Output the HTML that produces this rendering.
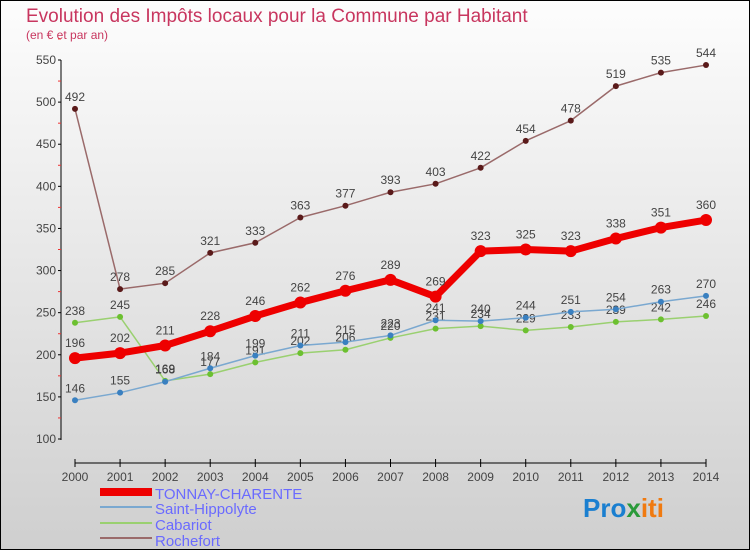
<!DOCTYPE html>
<html><head><meta charset="utf-8"><style>
body{margin:0}
#c{width:750px;height:550px;position:relative;font-family:"Liberation Sans",sans-serif}
</style></head><body>
<div id="c">
<svg id="s" width="750" height="550" xmlns="http://www.w3.org/2000/svg">
<defs><linearGradient id="bg" x1="0" y1="0" x2="0" y2="1"><stop offset="0" stop-color="#fdfdfd"/><stop offset="1" stop-color="#cfcfcf"/></linearGradient></defs>
<rect x="0.5" y="0.5" width="749" height="549" fill="url(#bg)" stroke="#000"/>
<text x="26" y="22" font-size="19" fill="#c8365f">Evolution des Impôts locaux pour la Commune par Habitant</text>
<text x="26" y="39" font-size="12" fill="#c8365f">(en € et par an)</text>
<g id="axes"></g><g id="series"></g>
<g>
<rect x="100" y="488" width="52" height="8" fill="#e00"/>
<text x="155" y="499" font-size="15" fill="#6a6aff">TONNAY-CHARENTE</text>
<line x1="100" y1="507" x2="152" y2="507" stroke="#7aa8d0" stroke-width="2"/>
<text x="155" y="514" font-size="15" fill="#6a6aff">Saint-Hippolyte</text>
<line x1="100" y1="523" x2="152" y2="523" stroke="#9ad070" stroke-width="2"/>
<text x="155" y="530" font-size="15" fill="#6a6aff">Cabariot</text>
<line x1="100" y1="538" x2="152" y2="538" stroke="#9a6a6a" stroke-width="2"/>
<text x="155" y="546" font-size="15" fill="#6a6aff">Rochefort</text>
</g>
<text x="583" y="517" font-size="26" font-weight="bold"><tspan fill="#1a7fd0">Pro</tspan><tspan fill="#2a9a3a">x</tspan><tspan fill="#f07a10">iti</tspan></text>
</svg></div>
<script>
const years=[2000,2001,2002,2003,2004,2005,2006,2007,2008,2009,2010,2011,2012,2013,2014];
const yTicks=[100,150,200,250,300,350,400,450,500,550];
const tonnay=[196,202,211,228,246,262,276,289,269,323,325,323,338,351,360];
const hippolyte=[146,155,168,184,199,211,215,223,241,240,244,251,254,263,270];
const cabariot=[238,245,169,177,191,202,206,220,231,234,229,233,239,242,246];
const rochefort=[492,278,285,321,333,363,377,393,403,422,454,478,519,535,544];
const NS="http://www.w3.org/2000/svg";
function X(i){return 75+i*(706-75)/14;}
function Y(v){return 439-(v-100)*(439-60)/450;}
function mk(t,a,p){const e=document.createElementNS(NS,t);for(const k in a)e.setAttribute(k,a[k]);p.appendChild(e);return e;}
const ax=document.getElementById('axes');
mk('line',{x1:61,y1:60,x2:61,y2:440,stroke:'#000'},ax);
mk('line',{x1:75,y1:463,x2:706,y2:463,stroke:'#000'},ax);
yTicks.forEach(v=>{
 mk('line',{x1:58,y1:Y(v),x2:61,y2:Y(v),stroke:'#000'},ax);
 mk('line',{x1:58,y1:Y(v+25),x2:61,y2:Y(v+25),stroke:'#e33'},ax);
 const t=mk('text',{x:56,y:Y(v)+4,'font-size':12,fill:'#444','text-anchor':'end'},ax);
 t.textContent=v;
 
 
});
years.forEach((y,i)=>{
 mk('line',{x1:X(i),y1:459,x2:X(i),y2:467,stroke:'#000'},ax);
 const t=mk('text',{x:X(i),y:481,'font-size':12,fill:'#444','text-anchor':'middle'},ax);
 t.textContent=y;
 
 
});
const sg=document.getElementById('series');
function draw(arr,name,color,w,r,dot,labelOffset){
 const g=mk('g',{},sg);
 
 
 const pl=mk('polyline',{points:arr.map((v,i)=>X(i)+','+Y(v)).join(' '),fill:'none',stroke:color,'stroke-width':w,'stroke-linejoin':'round'},g);
 
 
 arr.forEach((v,i)=>{
  const c=mk('circle',{cx:X(i),cy:Y(v),r:r,fill:dot},g);
  
  
  const t=mk('text',{x:X(i),y:Y(v)-labelOffset,'font-size':12,fill:'#444','text-anchor':'middle'},g);
  t.textContent=v;
  
  
 });
}
draw(cabariot,'cabariot','#9ad070',1.5,3,'#6cc030',8);
draw(hippolyte,'saint-hippolyte','#7aa8d0',1.5,3,'#3a80c0',8);
draw(rochefort,'rochefort','#9a6a6a',1.5,3,'#5a1a1a',8);
draw(tonnay,'tonnay-charente','#e00',7,6,'#e00',11);
</script>
</body></html>
